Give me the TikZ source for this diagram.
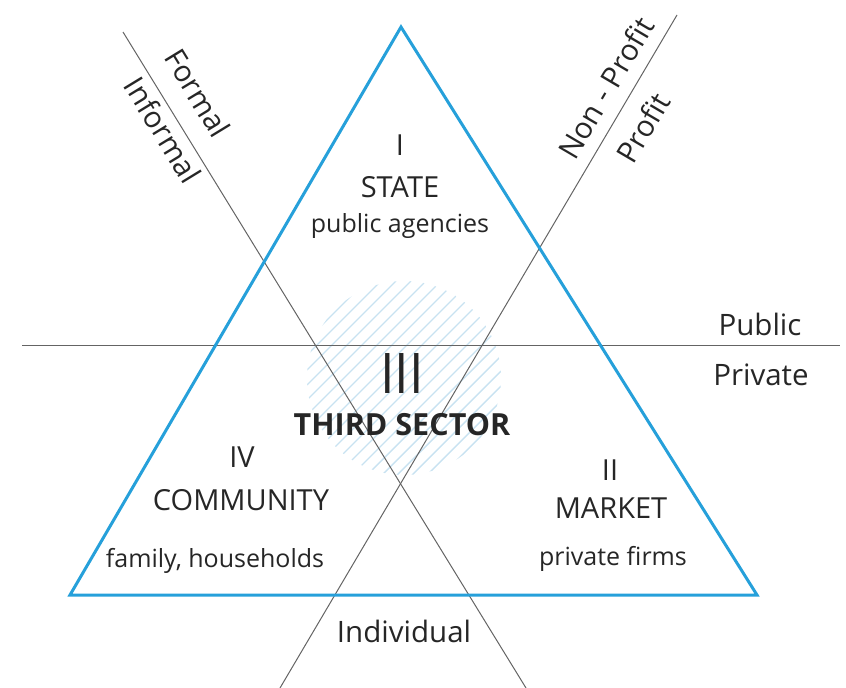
\documentclass[tikz,border=0pt]{standalone}
\usepackage{fontspec}
\setmainfont{Open Sans}
\usetikzlibrary{positioning}
\definecolor{sectorblue}{RGB}{38,160,218}
\definecolor{hatchblue}{RGB}{200,226,241}
\definecolor{inkgray}{RGB}{38,38,38}
\definecolor{linegray}{RGB}{100,100,100}
\tikzstyle{sectorline} = [draw=sectorblue, line width=3pt, line join=miter]
\tikzstyle{divider} = [draw=linegray, line width=1pt]
\tikzstyle{hatching} = [draw=hatchblue, line width=1.4pt]
\tikzstyle{numeral} = [text=inkgray, inner sep=0pt, anchor=base, font=\fontsize{29}{30}\selectfont]
\tikzstyle{sectortitle} = [text=inkgray, inner sep=0pt, anchor=base, font=\fontsize{29}{30}\selectfont]
\tikzstyle{sectorsub} = [text=inkgray, inner sep=0pt, anchor=base, font=\fontsize{25}{26}\selectfont]
\tikzstyle{axistext} = [text=inkgray, inner sep=0pt, font=\fontsize{29.5}{30}\selectfont]

\begin{document}
\begin{tikzpicture}[x=1pt, y=-1pt]
	\useasboundingbox (0,0) rectangle (846,688);
	% hatched core of the third sector
	\begin{scope}
		\clip (404,378) circle (97pt);
		\foreach \k in {-16,...,16}
			\draw[hatching] ({404+\k*15-180},{378+180}) -- ({404+\k*15+180},{378-180});
	\end{scope}
	% the three dividing lines
	\coordinate (pubL) at (22,345);
	\coordinate (pubR) at (840,345);
	\coordinate (formTop) at (123,32);
	\coordinate (formBot) at (526,688);
	\coordinate (profBot) at (280,688);
	\coordinate (profTop) at (677,15);
	\draw[divider] (pubL) -- (pubR);
	\draw[divider] (formTop) -- (formBot);
	\draw[divider] (profBot) -- (profTop);
	% the triangle
	\coordinate (apex) at (401,27);
	\coordinate (baseR) at (757,595);
	\coordinate (baseL) at (70,595);
	\draw[sectorline] (apex) -- (baseR) -- (baseL) -- cycle;
	% sectors
	\node[numeral] (stateNum) at (400,155) {I};
	\node[sectortitle] (stateTitle) at (400,197) {STATE};
	\node[sectorsub] (stateSub) at (400,232) {public agencies};
	\node[numeral] (marketNum) at (610,480) {II};
	\node[sectortitle] (marketTitle) at (611,518) {MARKET};
	\node[sectorsub] (marketSub) at (613,565) {private firms};
	\node[numeral] (commNum) at (242,467) {IV};
	\node[sectortitle] (commTitle) at (241,510) {COMMUNITY};
	\node[sectorsub] (commSub) at (215,567) {family, households};
	\node[numeral, font=\fontsize{40}{40}\selectfont] (thirdNum) at (402,393) {\scalebox{1.3}[1.4]{III}};
	\node[sectortitle, font=\fontsize{30.5}{31}\selectfont\bfseries] (thirdTitle) at (402,435) {THIRD SECTOR};
	% axis labels
	\node[axistext, anchor=base] (public) at (760,335) {Public};
	\node[axistext, anchor=base] (private) at (761,385) {Private};
	\node[axistext, anchor=base] (individual) at (404,642) {Individual};
	\node[axistext, rotate=-58.6] (formal) at (198,93) {Formal};
	\node[axistext, rotate=-58.6] (informal) at (163,130) {Informal};
	\node[axistext, rotate=59.5] (nonprofit) at (606,88) {Non - Profit};
	\node[axistext, rotate=59.5] (profit) at (643,128) {Profit};
\end{tikzpicture}
\end{document}
